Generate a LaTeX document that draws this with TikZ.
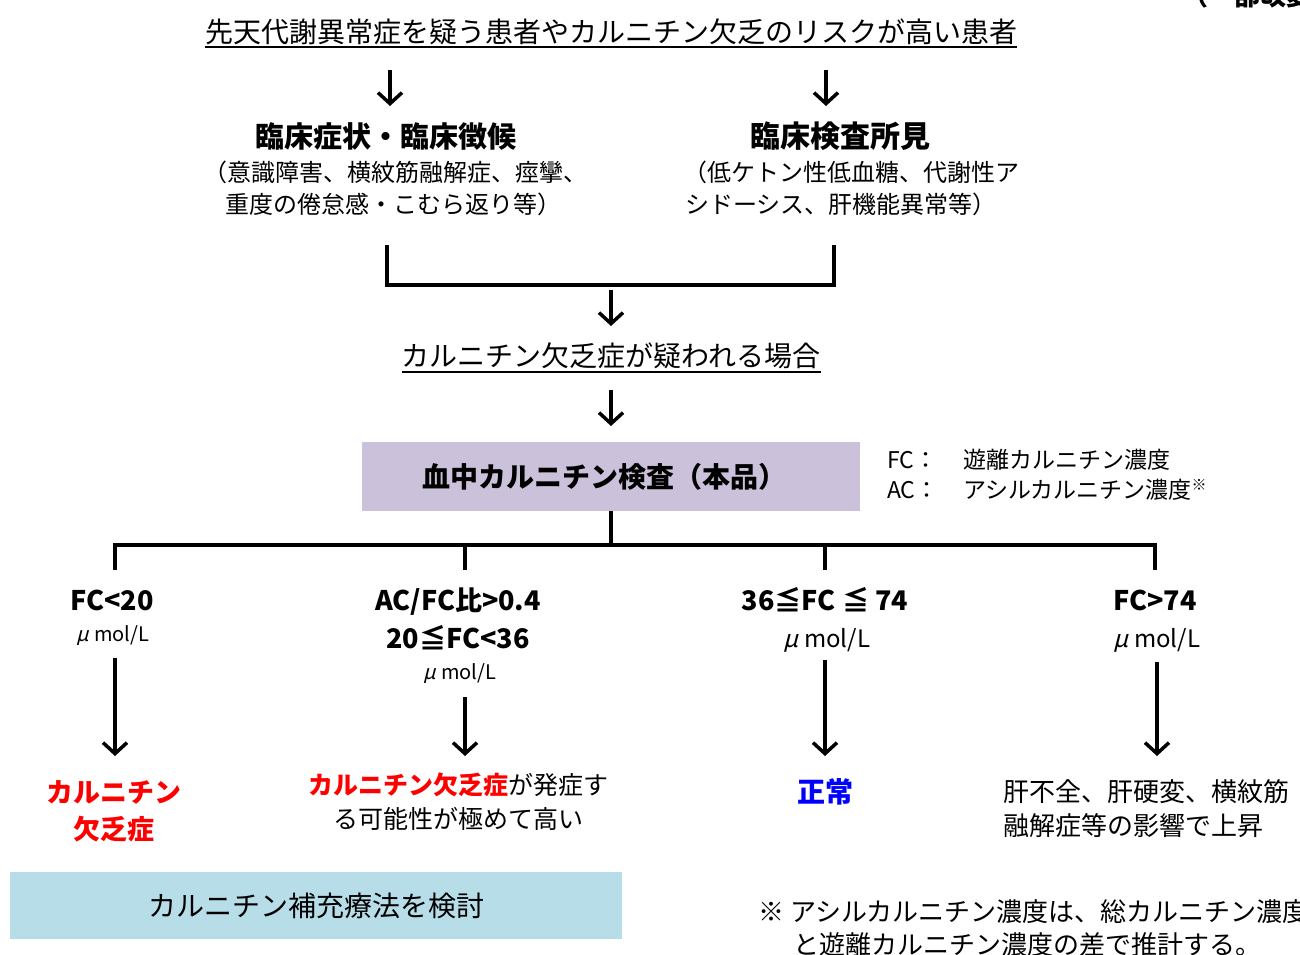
\documentclass[tikz,border=0pt]{standalone}
\usepackage{fontspec}
\setmainfont{Noto Sans CJK JP}
\newfontfamily\muf[FakeSlant=0.25]{Noto Sans CJK JP}
\usetikzlibrary{arrows.meta}
\definecolor{purp}{HTML}{CCC1DA}
\definecolor{lblue}{HTML}{B7DDE8}
\definecolor{myred}{HTML}{FF0000}
\definecolor{myblue}{HTML}{0000FF}
\newcommand\myfs[1]{\fontsize{#1}{#1}\selectfont}
\newcommand\umol{{\muf μ} mol/L}
\begin{document}
\begin{tikzpicture}[x=1pt,y=-1pt,
  txt/.style={inner sep=0pt, anchor=base},
  ltxt/.style={inner sep=0pt, anchor=base west},
  ln/.style={line width=3.5pt},
  hln/.style={line width=4pt},
  arr/.style={line width=3.5pt, -{Straight Barb[length=11pt,width=24pt]}},
  ul/.style={line width=1.5pt},
  fillbox/.style={inner sep=0pt, draw=none}
]
\useasboundingbox (0,0) rectangle (1300,954);
\clip (0,0) rectangle (1300,954);

% top-right cut note
\node[ltxt, font=\myfs{26}\bfseries] (note) at (1182,5) {（一部改変）};

% heading
\node[txt, font=\myfs{28}] (head) at (611,42) {先天代謝異常症を疑う患者やカルニチン欠乏のリスクが高い患者};
\draw[ul] ([yshift=-5pt]head.base west) -- ([yshift=-5pt]head.base east);

\coordinate (a1s) at (390,70); \coordinate (a1e) at (390,106);
\coordinate (a2s) at (826,70); \coordinate (a2e) at (826,106);
\draw[arr] (a1s) -- (a1e);
\draw[arr] (a2s) -- (a2e);

% left column
\node[txt, font=\myfs{29}\bfseries] (symt) at (386,147) {臨床症状・臨床徴候};
\node[ltxt, font=\myfs{24}] (symd1) at (203,181) {（意識障害、横紋筋融解症、痙攣、};
\node[ltxt, font=\myfs{24}] (symd2) at (225,213) {重度の倦怠感・こむら返り等）};

% right column
\node[txt, font=\myfs{30}\bfseries] (labt) at (840,147) {臨床検査所見};
\node[ltxt, font=\myfs{24}] (labd1) at (683,181) {（低ケトン性低血糖、代謝性ア};
\node[ltxt, font=\myfs{24}] (labd2) at (685,213) {シドーシス、肝機能異常等）};

% bracket
\coordinate (k1) at (387,245); \coordinate (k2) at (387,285);
\coordinate (k3) at (834,285); \coordinate (k4) at (834,245);
\draw[ln] (k1) -- (k2) -- (k3) -- (k4);
\coordinate (a3s) at (611,290); \coordinate (a3e) at (611,326);
\draw[arr] (a3s) -- (a3e);

% suspected
\node[txt, font=\myfs{28}] (susp) at (611,366) {カルニチン欠乏症が疑われる場合};
\draw[ul] ([yshift=-6pt]susp.base west) -- ([yshift=-6pt]susp.base east);
\coordinate (a4s) at (611,390); \coordinate (a4e) at (611,426);
\draw[arr] (a4s) -- (a4e);

% test box
\node[fillbox, fill=purp, minimum width=498pt, minimum height=69pt, font=\myfs{28}\bfseries] (test) at (611,476.5) {\hspace*{-14pt}血中カルニチン検査（本品）};

% legend
\node[ltxt, font=\myfs{23}] (fcl) at (887,468) {FC：};
\node[ltxt, font=\myfs{23}] (fct) at (963,468) {遊離カルニチン濃度};
\node[ltxt, font=\myfs{23}] (acl) at (887,498) {AC：};
\node[ltxt, font=\myfs{23}] (act) at (963,498) {アシルカルニチン濃度\raisebox{8pt}{\myfs{15}※}};

% tree
\coordinate (j0) at (611,545);
\draw[ln] (test.south) -- (j0);
\coordinate (b1) at (115,545); \coordinate (d1) at (115,570);
\coordinate (b2) at (465,545); \coordinate (d2) at (465,570);
\coordinate (b3) at (825,545); \coordinate (d3) at (825,570);
\coordinate (b4) at (1155,545); \coordinate (d4) at (1155,570);
\draw[hln] (d1) -- (b1) -- (b4) -- (d4);
\draw[ln] (b2) -- (d2);
\draw[ln] (b3) -- (d3);

% branch labels
\node[txt, font=\myfs{27}\bfseries] (c1) at (112,610) {FC<20};
\node[txt, font=\myfs{20}] (u1) at (113,641) {\umol};
\node[txt, font=\myfs{27}\bfseries] (c2a) at (458,610) {AC/FC比>0.4};
\node[txt, font=\myfs{27}\bfseries] (c2b) at (458,648) {20≦FC<36};
\node[txt, font=\myfs{20}] (u2) at (460,679) {\umol};
\node[txt, font=\myfs{27}\bfseries] (c3) at (825,610) {36≦FC ≦ 74};
\node[txt, font=\myfs{24}] (u3) at (827,647) {\umol};
\node[txt, font=\myfs{27}\bfseries] (c4) at (1155,610) {FC>74};
\node[txt, font=\myfs{24}] (u4) at (1157,647) {\umol};

% arrows to outcomes
\coordinate (e1s) at (115,658); \coordinate (e1e) at (115,756);
\coordinate (e2s) at (465,697); \coordinate (e2e) at (465,756);
\coordinate (e3s) at (825,660); \coordinate (e3e) at (825,756);
\coordinate (e4s) at (1157,662); \coordinate (e4e) at (1157,756);
\draw[arr] (e1s) -- (e1e);
\draw[arr] (e2s) -- (e2e);
\draw[arr] (e3s) -- (e3e);
\draw[arr] (e4s) -- (e4e);

% outcomes
\node[txt, font=\myfs{27}\bfseries, text=myred] (o1a) at (114,802) {カルニチン};
\node[txt, font=\myfs{27}\bfseries, text=myred] (o1b) at (114,839) {欠乏症};
\node[txt, font=\myfs{25}] (o2a) at (458,794) {\textcolor{myred}{\bfseries カルニチン欠乏症}が発症す};
\node[txt, font=\myfs{25}] (o2b) at (458,828) {る可能性が極めて高い};
\node[txt, font=\myfs{28}\bfseries, text=myblue] (o3) at (825,802) {正常};
\node[ltxt, font=\myfs{26}] (o4a) at (1003,801) {肝不全、肝硬変、横紋筋};
\node[ltxt, font=\myfs{26}] (o4b) at (1003,835) {融解症等の影響で上昇};

% therapy box
\node[fillbox, fill=lblue, minimum width=612pt, minimum height=67pt, font=\myfs{28}] (ther) at (316,905.5) {カルニチン補充療法を検討};

% footnote
\node[ltxt, font=\myfs{26}] (fn1) at (758,921) {※ アシルカルニチン濃度は、総カルニチン濃度};
\node[ltxt, font=\myfs{26}] (fn2) at (793,954) {と遊離カルニチン濃度の差で推計する。};
\end{tikzpicture}
\end{document}
